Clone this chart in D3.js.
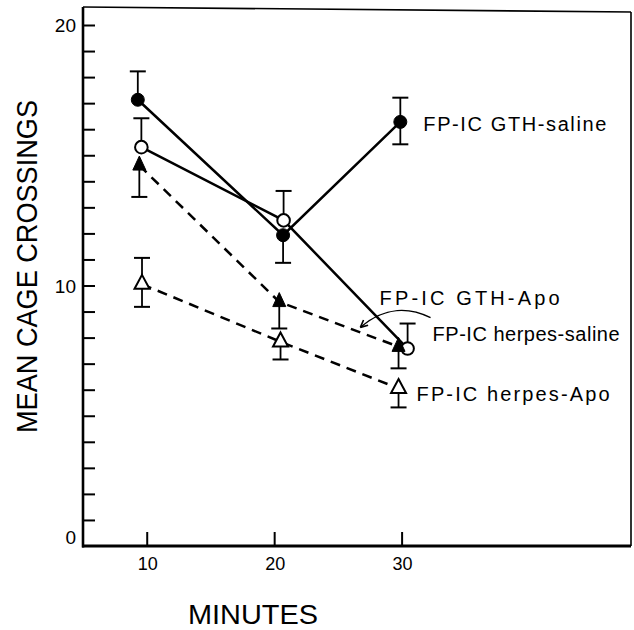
<!DOCTYPE html>
<html><head><meta charset="utf-8">
<script src="https://cdn.jsdelivr.net/npm/d3@7/dist/d3.min.js"></script>
<style>html,body{margin:0;padding:0;background:#fff}svg{display:block}</style>
</head><body>
<svg id="c" width="634" height="630"></svg>
<script>
// ---- data ----
const seriesNames = ["FP-IC GTH-saline", "FP-IC herpes-saline", "FP-IC GTH-Apo", "FP-IC herpes-Apo"];
const xTickValues = [10, 20, 30];
const yLabelValues = [0, 10, 20];

const gthSalineX = [9.3, 20.7, 29.9];
const gthSalineY = [17.13, 11.93, 16.28];
const gthSalineErrUp = [1.09, 0, 0.93];
const gthSalineErrDown = [0, 1.06, 0.86];

const herpesSalineX = [9.58, 20.74, 30.47];
const herpesSalineY = [15.31, 12.5, 7.58];
const herpesSalineErrUp = [1.11, 1.13, 0.96];
const herpesSalineErrDown = [0, 0, 0];

const gthApoX = [9.42, 20.4, 29.76];
const gthApoY = [14.61, 9.37, 7.65];
const gthApoErrUp = [0, 0, 0];
const gthApoErrDown = [1.21, 1.02, 0.83];

const herpesApoX = [9.63, 20.5, 29.76];
const herpesApoY = [10.05, 7.84, 6.05];
const herpesApoErrUp = [1.01, 0, 0];
const herpesApoErrDown = [0.87, 0.68, 0.73];

// ---- layout ----
const svg = d3.select("#c");
const FONT = "'Liberation Sans', Arial, sans-serif";
const x = d3.scaleLinear().domain([5, 48]).range([83, 631]);
const y = d3.scaleLinear().domain([0, 20]).range([546, 25]);
const yTopFrameL = 7, yTopFrameR = 12;

const series = [
  {name: seriesNames[0], xs: gthSalineX, ys: gthSalineY, up: gthSalineErrUp, dn: gthSalineErrDown, marker: "circle", filled: true, dashed: false},
  {name: seriesNames[1], xs: herpesSalineX, ys: herpesSalineY, up: herpesSalineErrUp, dn: herpesSalineErrDown, marker: "circle", filled: false, dashed: false},
  {name: seriesNames[2], xs: gthApoX, ys: gthApoY, up: gthApoErrUp, dn: gthApoErrDown, marker: "triangle", filled: true, dashed: true},
  {name: seriesNames[3], xs: herpesApoX, ys: herpesApoY, up: herpesApoErrUp, dn: herpesApoErrDown, marker: "triangle", filled: false, dashed: true}
];
series.forEach(s => s.pts = s.xs.map((v, i) => ({x: v, y: s.ys[i], up: s.up[i], dn: s.dn[i]})));

// frame: top and right thin lines
svg.append("line").attr("x1", x(5)).attr("x2", x(48)).attr("y1", yTopFrameL).attr("y2", yTopFrameR)
  .attr("stroke", "#000").attr("stroke-width", 1.6);
svg.append("line").attr("x1", x(48)).attr("x2", x(48)).attr("y1", yTopFrameR).attr("y2", y(0))
  .attr("stroke", "#000").attr("stroke-width", 1.6);

// left axis: ticks every unit, pointing inward
const yAxis = d3.axisRight(y).tickValues(d3.range(1, 21)).tickSize(12).tickFormat("");
const gy = svg.append("g").attr("transform", `translate(${x(5)},0)`).call(yAxis);
gy.select(".domain").remove();
gy.selectAll(".tick line").attr("stroke", "#000").attr("stroke-width", 2);
svg.append("line").attr("x1", x(5)).attr("x2", x(5)).attr("y1", yTopFrameL).attr("y2", y(0) + 1.5)
  .attr("stroke", "#000").attr("stroke-width", 2.6);

// bottom axis: ticks upward
const xAxis = d3.axisTop(x).tickValues(xTickValues).tickSize(14).tickFormat("");
const gx = svg.append("g").attr("transform", `translate(0,${y(0)})`).call(xAxis);
gx.select(".domain").remove();
gx.selectAll(".tick line").attr("stroke", "#000").attr("stroke-width", 2);
svg.append("line").attr("x1", x(5) - 1).attr("x2", x(48)).attr("y1", y(0)).attr("y2", y(0))
  .attr("stroke", "#000").attr("stroke-width", 3.2);

// tick labels
svg.selectAll(".xl").data(xTickValues).enter().append("text")
  .attr("x", d => x(d) + 1).attr("y", 570).attr("text-anchor", "middle")
  .attr("font-family", FONT).attr("font-size", 18).text(d => d);
svg.selectAll(".yl").data(yLabelValues).enter().append("text")
  .attr("x", 76).attr("y", d => (d === 0 ? y(d) - 9 : y(d)) + 7).attr("text-anchor", "end")
  .attr("font-family", FONT).attr("font-size", 19).text(d => d);

// axis titles
svg.append("text").attr("x", 188).attr("y", 624).attr("font-family", FONT).attr("font-size", 27)
  .attr("textLength", 130).attr("lengthAdjust", "spacingAndGlyphs").text("MINUTES");
svg.append("text").attr("transform", "translate(37,433) rotate(-90)").attr("font-family", FONT)
  .attr("font-size", 29).attr("textLength", 333).attr("lengthAdjust", "spacingAndGlyphs")
  .text("MEAN CAGE CROSSINGS");

// lines
const line = d3.line().x(d => x(d.x)).y(d => y(d.y));
series.forEach(s => {
  svg.append("path").datum(s.pts).attr("d", line).attr("fill", "none").attr("stroke", "#000")
    .attr("stroke-width", 2.5).attr("stroke-dasharray", s.dashed ? "10,7" : null);
});

// error bars
const cap = 8;
series.forEach(s => {
  s.pts.forEach(p => {
    [[p.up, 1], [p.dn, -1]].forEach(([e, sign]) => {
      if (!e) return;
      const yEnd = y(p.y + sign * e);
      svg.append("line").attr("x1", x(p.x)).attr("x2", x(p.x)).attr("y1", y(p.y)).attr("y2", yEnd)
        .attr("stroke", "#000").attr("stroke-width", 1.8);
      svg.append("line").attr("x1", x(p.x) - cap).attr("x2", x(p.x) + cap).attr("y1", yEnd).attr("y2", yEnd)
        .attr("stroke", "#000").attr("stroke-width", 2);
    });
  });
});

// markers
function tri(w, h) {
  return `M0,${-h * 2 / 3}L${w / 2},${h / 3}L${-w / 2},${h / 3}Z`;
}
series.forEach(s => {
  s.pts.forEach(p => {
    const cx = x(p.x), cy = y(p.y);
    if (s.marker === "circle") {
      svg.append("circle").attr("cx", cx).attr("cy", cy).attr("r", s.filled ? 6.5 : 6.3)
        .attr("fill", s.filled ? "#000" : "#fff").attr("stroke", "#000").attr("stroke-width", s.filled ? 1 : 2);
    } else {
      svg.append("path").attr("transform", `translate(${cx},${cy})`)
        .attr("d", s.filled ? tri(13, 14) : tri(15, 14))
        .attr("fill", s.filled ? "#000" : "#fff").attr("stroke", "#000")
        .attr("stroke-width", s.filled ? 1 : 2).attr("stroke-linejoin", "miter");
    }
  });
});

// series labels, placed relative to each series' last point
function last(s) { const p = s.pts[s.pts.length - 1]; return [x(p.x), y(p.y)]; }
const labelSpec = [
  {s: series[0], dx: 23, dy: 9, len: 183},
  {s: series[1], dx: 25, dy: -8, len: 187},
  {s: series[2], dx: -19, dy: -42, len: 180},
  {s: series[3], dx: 18, dy: 13, len: 193}
];
labelSpec.forEach(l => {
  const [lx, ly] = last(l.s);
  svg.append("text").attr("x", lx + l.dx).attr("y", ly + l.dy).attr("font-family", FONT)
    .attr("font-size", 20).attr("textLength", l.len).attr("lengthAdjust", "spacing")
    .text(l.s.name);
});

// callout arrow from the GTH-Apo label to its dashed line
{
  const a = series[2].pts[1], b = series[2].pts[2];
  const f = 0.68;
  const tx = x(a.x) + (x(b.x) - x(a.x)) * f;
  const ty = y(a.y) + (y(b.y) - y(a.y)) * f - 5;
  const [lx, ly] = last(series[2]);
  const sx = lx + 32, sy = ly - 29;
  svg.append("path")
    .attr("d", `M${sx},${sy}C${sx - 20},${sy - 10} ${tx + 25},${sy - 12} ${tx},${ty}`)
    .attr("fill", "none").attr("stroke", "#000").attr("stroke-width", 1.4);
  const ang = Math.atan2(ty - (sy - 12), tx - (tx + 25));
  const L = 8;
  [0.45, -0.45].forEach(da => {
    svg.append("line").attr("x1", tx).attr("y1", ty)
      .attr("x2", tx - L * Math.cos(ang + da)).attr("y2", ty - L * Math.sin(ang + da))
      .attr("stroke", "#000").attr("stroke-width", 1.6);
  });
}
</script>
</body></html>
